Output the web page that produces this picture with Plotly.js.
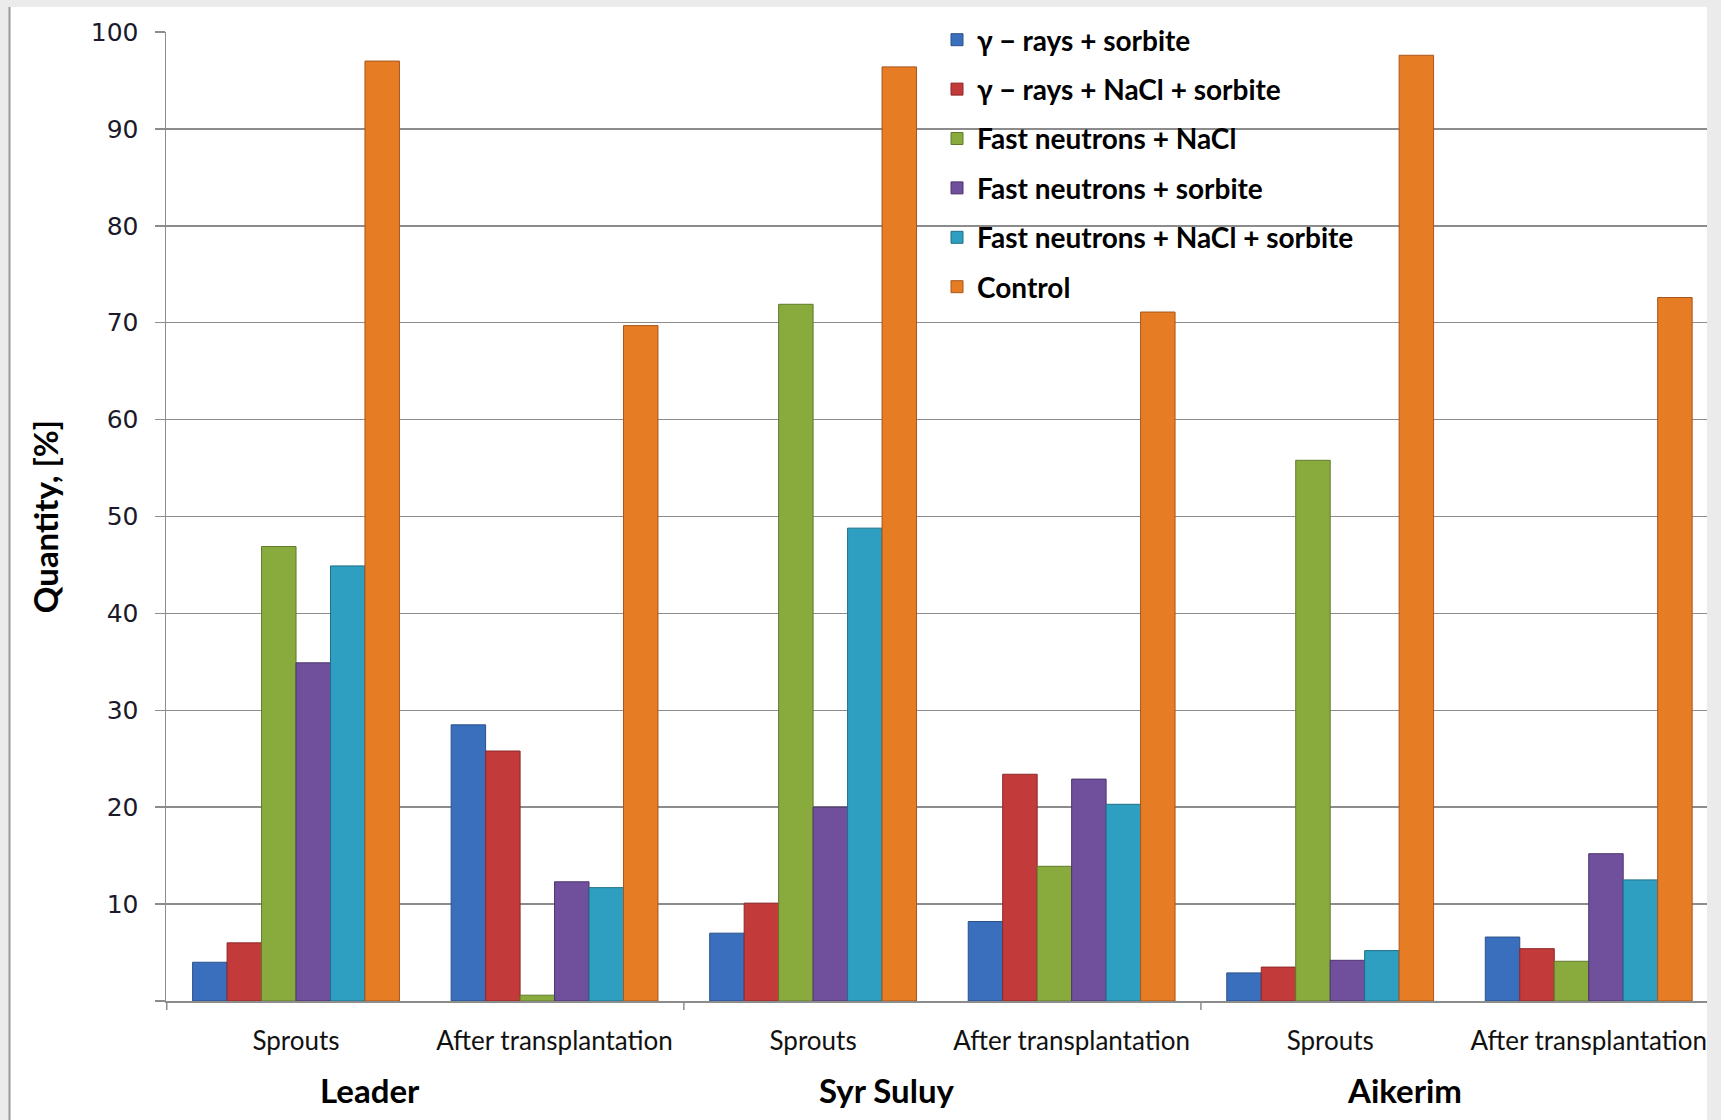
<!DOCTYPE html>
<html>
<head>
<meta charset="utf-8">
<script src="https://cdn.plot.ly/plotly-3.0.1.min.js"></script>
<style>
  html, body { margin: 0; padding: 0; background: #ebebeb; }
  #chart { width: 1721px; height: 1120px; }
</style>
</head>
<body>
<div id="chart"></div>
<script>
// ---- data ----
const varieties = ['Leader', 'Syr Suluy', 'Aikerim'];
const stages = ['Sprouts', 'After transplantation'];

const seriesNames = [
  'γ − rays + sorbite',
  'γ − rays + NaCl + sorbite',
  'Fast neutrons + NaCl',
  'Fast neutrons + sorbite',
  'Fast neutrons + NaCl + sorbite',
  'Control'
];

// order: Leader Sprouts, Leader After, Syr Sprouts, Syr After, Aikerim Sprouts, Aikerim After
const gammaSorbite       = [4.0, 28.5, 7.0, 8.2, 2.9, 6.6];
const gammaNaClSorbite   = [6.0, 25.8, 10.1, 23.4, 3.5, 5.4];
const fastNaCl           = [46.9, 0.6, 71.9, 13.9, 55.8, 4.1];
const fastSorbite        = [34.9, 12.3, 20.0, 22.9, 4.2, 15.2];
const fastNaClSorbite    = [44.9, 11.7, 48.8, 20.3, 5.2, 12.5];
const control            = [97.0, 69.7, 96.4, 71.1, 97.6, 72.6];

const yTickVals = [0, 10, 20, 30, 40, 50, 60, 70, 80, 90, 100];
const yTickText = ['', '10', '20', '30', '40', '50', '60', '70', '80', '90', '100'];

// ---- build ----
const catKeys = [];
const catLabels = [];
varieties.forEach(v => stages.forEach(s => { catKeys.push(v + ' | ' + s); catLabels.push(s); }));

const allSeries = [gammaSorbite, gammaNaClSorbite, fastNaCl, fastSorbite, fastNaClSorbite, control];
const colors = ['#3a6fbd', '#c23a3a', '#89ab3e', '#70509c', '#2e9fc0', '#e67c24'];
const edges  = ['#2a5089', '#8e2828', '#5f7a2a', '#4c346d', '#1f6f87', '#a8561a'];

const traces = allSeries.map((vals, i) => ({
  type: 'bar',
  name: seriesNames[i],
  x: catKeys,
  y: vals,
  legendgroup: 'g' + i,
  marker: { color: colors[i], line: { color: edges[i], width: 1 } },
  hoverinfo: 'y+name'
}));

const gridCol = '#8c8c8c';

// plot area in pixels: x 166..1718 (right part hidden under page frame), y 32..1001
const L = 166, R = 1718, T = 32, B = 1001;
const px = v => (v - L) / (R - L);
const py = v => (B - v) / (B - T);

const shapes = [
  // white page panel
  { type: 'rect', xref: 'paper', yref: 'paper', x0: px(10), x1: px(1707), y0: py(1120), y1: py(7),
    fillcolor: '#ffffff', line: { width: 0 }, layer: 'below' },
  // left frame line
  { type: 'line', xref: 'paper', yref: 'paper', x0: px(9.5), x1: px(9.5), y0: py(1120), y1: py(7),
    line: { color: '#9a9a9a', width: 2 }, layer: 'below' },
  // right gray strip of the frame, covering the plot's right end
  { type: 'rect', xref: 'paper', yref: 'paper', x0: px(1707), x1: px(1722), y0: py(1121), y1: py(-1),
    fillcolor: '#ebebeb', line: { width: 0 }, layer: 'above' }
];
// group dividers at category boundaries
[-0.5, 1.5, 3.5].forEach(b => shapes.push({
  type: 'line', xref: 'x', yref: 'paper', x0: b, x1: b, y0: 0, y1: py(1010),
  line: { color: gridCol, width: 1.5 }
}));

const annotations = varieties.map((v, i) => ({
  xref: 'x', yref: 'paper', x: i * 2 + 0.286, y: py(1090),
  text: '<b>' + v + '</b>', showarrow: false, xanchor: 'center', yanchor: 'middle',
  font: { family: 'Lato, sans-serif', size: 33, color: '#000' }
}));

const layout = {
  width: 1721, height: 1120,
  margin: { l: L, r: 1721 - R, t: T, b: 1120 - B, pad: 0 },
  paper_bgcolor: '#ebebeb',
  plot_bgcolor: 'rgba(0,0,0,0)',
  barmode: 'group',
  bargap: 0.2,
  bargroupgap: 0,
  showlegend: true,
  legend: {
    x: px(937), xanchor: 'left', y: py(15), yanchor: 'top',
    bgcolor: 'rgba(0,0,0,0)', borderwidth: 0,
    font: { family: 'Lato, sans-serif', size: 28, color: '#000', weight: 'bold' },
    tracegroupgap: 10, traceorder: 'grouped'
  },
  xaxis: {
    type: 'category',
    tickvals: catKeys, ticktext: catLabels,
    ticks: '', showgrid: false, zeroline: false,
    showline: true, linecolor: gridCol, linewidth: 1.5,
    tickfont: { family: 'Lato, sans-serif', size: 26, color: '#111' },
    ticklabelstandoff: 16,
    fixedrange: true
  },
  yaxis: {
    range: [0, 100],
    tickvals: yTickVals, ticktext: yTickText,
    ticks: 'outside', ticklen: 10, tickcolor: gridCol, tickwidth: 1.5,
    showgrid: true, gridcolor: gridCol, gridwidth: 1.5,
    zeroline: false,
    showline: true, linecolor: gridCol, linewidth: 1.5,
    tickfont: { family: 'DejaVu Sans, sans-serif', size: 25, color: '#1a1a2a' },
    ticklabelstandoff: 11,
    title: { text: '<b>Quantity, [%]</b>', standoff: 22,
             font: { family: 'Lato, sans-serif', size: 33, color: '#000' } },
    fixedrange: true
  },
  shapes: shapes,
  annotations: annotations
};

Plotly.newPlot('chart', traces, layout, { displayModeBar: false, staticPlot: true });
</script>
</body>
</html>
